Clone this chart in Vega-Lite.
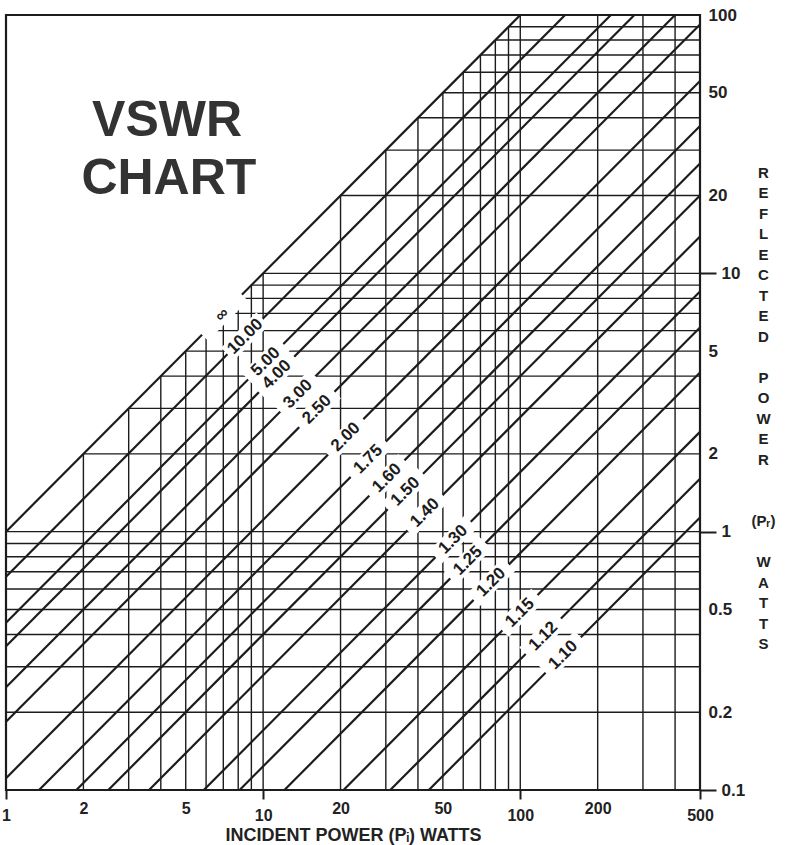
{
  "$schema": "https://vega.github.io/schema/vega-lite/v6.json",
  "width": 694,
  "height": 775,
  "autosize": {"type": "none"},
  "padding": {"left": 6, "top": 15, "right": 85, "bottom": 55},
  "background": "white",
  "config": {
    "view": {"stroke": "#1c1c1c", "strokeWidth": 2.2},
    "font": "Liberation Sans",
    "axisY": {
      "grid": false, "domain": false, "ticks": false, "labels": false,
      "titleAngle": 0, "titleFont": "Liberation Sans", "titleFontSize": 15, "titleFontWeight": "bold", "titleColor": "#222",
      "titleLineHeight": 20.5, "titleAlign": "center", "titleBaseline": "middle", "titleX": 63
    }
  },
  "resolve": {"axis": {"y": "independent"}},
  "datasets": {
    "grid": [
      {"x": 2, "y": 0.1, "x2": 2, "y2": 2},
      {"x": 3, "y": 0.1, "x2": 3, "y2": 3},
      {"x": 4, "y": 0.1, "x2": 4, "y2": 4},
      {"x": 5, "y": 0.1, "x2": 5, "y2": 5},
      {"x": 6, "y": 0.1, "x2": 6, "y2": 6},
      {"x": 7, "y": 0.1, "x2": 7, "y2": 7},
      {"x": 8, "y": 0.1, "x2": 8, "y2": 8},
      {"x": 9, "y": 0.1, "x2": 9, "y2": 9},
      {"x": 10, "y": 0.1, "x2": 10, "y2": 10},
      {"x": 20, "y": 0.1, "x2": 20, "y2": 20},
      {"x": 30, "y": 0.1, "x2": 30, "y2": 30},
      {"x": 40, "y": 0.1, "x2": 40, "y2": 40},
      {"x": 50, "y": 0.1, "x2": 50, "y2": 50},
      {"x": 60, "y": 0.1, "x2": 60, "y2": 60},
      {"x": 70, "y": 0.1, "x2": 70, "y2": 70},
      {"x": 80, "y": 0.1, "x2": 80, "y2": 80},
      {"x": 90, "y": 0.1, "x2": 90, "y2": 90},
      {"x": 100, "y": 0.1, "x2": 100, "y2": 100},
      {"x": 200, "y": 0.1, "x2": 200, "y2": 100},
      {"x": 300, "y": 0.1, "x2": 300, "y2": 100},
      {"x": 400, "y": 0.1, "x2": 400, "y2": 100},
      {"x": 1, "y": 0.2, "x2": 500, "y2": 0.2},
      {"x": 1, "y": 0.3, "x2": 500, "y2": 0.3},
      {"x": 1, "y": 0.4, "x2": 500, "y2": 0.4},
      {"x": 1, "y": 0.5, "x2": 500, "y2": 0.5},
      {"x": 1, "y": 0.6, "x2": 500, "y2": 0.6},
      {"x": 1, "y": 0.7, "x2": 500, "y2": 0.7},
      {"x": 1, "y": 0.8, "x2": 500, "y2": 0.8},
      {"x": 1, "y": 0.9, "x2": 500, "y2": 0.9},
      {"x": 1, "y": 1, "x2": 500, "y2": 1},
      {"x": 2, "y": 2, "x2": 500, "y2": 2},
      {"x": 3, "y": 3, "x2": 500, "y2": 3},
      {"x": 4, "y": 4, "x2": 500, "y2": 4},
      {"x": 5, "y": 5, "x2": 500, "y2": 5},
      {"x": 6, "y": 6, "x2": 500, "y2": 6},
      {"x": 7, "y": 7, "x2": 500, "y2": 7},
      {"x": 8, "y": 8, "x2": 500, "y2": 8},
      {"x": 9, "y": 9, "x2": 500, "y2": 9},
      {"x": 10, "y": 10, "x2": 500, "y2": 10},
      {"x": 20, "y": 20, "x2": 500, "y2": 20},
      {"x": 30, "y": 30, "x2": 500, "y2": 30},
      {"x": 40, "y": 40, "x2": 500, "y2": 40},
      {"x": 50, "y": 50, "x2": 500, "y2": 50},
      {"x": 60, "y": 60, "x2": 500, "y2": 60},
      {"x": 70, "y": 70, "x2": 500, "y2": 70},
      {"x": 80, "y": 80, "x2": 500, "y2": 80},
      {"x": 90, "y": 90, "x2": 500, "y2": 90}
    ],
    "vswr": [
      {"label": "∞", "x": 1, "y": 1, "x2": 100, "y2": 100},
      {"label": "10.00", "x": 1, "y": 0.6694, "x2": 149.4, "y2": 100},
      {"label": "5.00", "x": 1, "y": 0.4444, "x2": 225, "y2": 100},
      {"label": "4.00", "x": 1, "y": 0.36, "x2": 277.8, "y2": 100},
      {"label": "3.00", "x": 1, "y": 0.25, "x2": 400, "y2": 100},
      {"label": "2.50", "x": 1, "y": 0.18367, "x2": 500, "y2": 91.84},
      {"label": "2.00", "x": 1, "y": 0.11111, "x2": 500, "y2": 55.56},
      {"label": "1.75", "x": 1.3444, "y": 0.1, "x2": 500, "y2": 37.19},
      {"label": "1.60", "x": 1.8778, "y": 0.1, "x2": 500, "y2": 26.63},
      {"label": "1.50", "x": 2.5, "y": 0.1, "x2": 500, "y2": 20},
      {"label": "1.40", "x": 3.6, "y": 0.1, "x2": 500, "y2": 13.889},
      {"label": "1.30", "x": 5.878, "y": 0.1, "x2": 500, "y2": 8.5065},
      {"label": "1.25", "x": 8.1, "y": 0.1, "x2": 500, "y2": 6.173},
      {"label": "1.20", "x": 12.1, "y": 0.1, "x2": 500, "y2": 4.1322},
      {"label": "1.15", "x": 20.544, "y": 0.1, "x2": 500, "y2": 2.4338},
      {"label": "1.12", "x": 31.21, "y": 0.1, "x2": 500, "y2": 1.602},
      {"label": "1.10", "x": 44.1, "y": 0.1, "x2": 500, "y2": 1.1338}
    ],
    "labels": [
      {"label": "∞", "x": 6.92, "y": 6.92},
      {"label": "10.00", "x": 8.511, "y": 5.697},
      {"label": "5.00", "x": 10.23, "y": 4.546},
      {"label": "4.00", "x": 11.28, "y": 4.061},
      {"label": "3.00", "x": 13.65, "y": 3.4125},
      {"label": "2.50", "x": 16.18, "y": 2.972},
      {"label": "2.00", "x": 20.94, "y": 2.327},
      {"label": "1.75", "x": 25.63, "y": 1.906},
      {"label": "1.60", "x": 30.29, "y": 1.613},
      {"label": "1.50", "x": 35.75, "y": 1.43},
      {"label": "1.40", "x": 42.6, "y": 1.1833},
      {"label": "1.30", "x": 54.83, "y": 0.9328},
      {"label": "1.25", "x": 62.54, "y": 0.7721},
      {"label": "1.20", "x": 77.05, "y": 0.6368},
      {"label": "1.15", "x": 99.68, "y": 0.4852},
      {"label": "1.12", "x": 122.9, "y": 0.3938},
      {"label": "1.10", "x": 146.9, "y": 0.3331}
    ],
    "title": [
      {"t": "VSWR", "x": 4.23, "y": 34},
      {"t": "CHART", "x": 4.3, "y": 20.2}
    ]
  },
  "encoding": {
    "x": {
      "field": "x", "type": "quantitative",
      "scale": {"type": "log", "domain": [1, 500], "nice": false},
      "axis": {
        "orient": "bottom",
        "values": [1, 2, 5, 10, 20, 50, 100, 200, 500],
        "format": "~g",
        "grid": false, "domain": false,
        "tickColor": "#1c1c1c", "tickWidth": 2,
        "tickSize": {"condition": {"test": "datum.value === 1 || datum.value === 10 || datum.value === 100 || datum.value === 500", "value": 9}, "value": 0},
        "labelPadding": {"condition": {"test": "datum.value === 1 || datum.value === 10 || datum.value === 100 || datum.value === 500", "value": 8}, "value": 10},
        "labelFlush": false,
        "labelFont": "Liberation Sans", "labelFontSize": 16, "labelFontWeight": "bold", "labelColor": "#222",
        "title": "INCIDENT POWER (Pᵢ) WATTS",
        "titleFont": "Liberation Sans", "titleFontSize": 18, "titleFontWeight": "bold", "titleColor": "#222",
        "titleBaseline": "alphabetic", "titleY": 50
      }
    }
  },
  "layer": [
    {
      "data": {"name": "grid"},
      "mark": {"type": "rule", "color": "#1c1c1c", "strokeWidth": 1.4},
      "encoding": {
        "y": {
          "field": "y", "type": "quantitative",
          "scale": {"type": "log", "domain": [0.1, 100], "nice": false},
          "axis": {
            "orient": "right",
            "values": [0.1, 0.2, 0.5, 1, 2, 5, 10, 20, 50, 100],
            "format": "~g",
            "labels": true, "ticks": true,
            "tickColor": "#1c1c1c", "tickWidth": 2,
            "tickSize": {"condition": {"test": "datum.value === 0.1 || datum.value === 1 || datum.value === 10", "value": 16}, "value": 0},
            "labelPadding": {"condition": {"test": "datum.value === 0.1 || datum.value === 1 || datum.value === 10", "value": 5}, "value": 8},
            "labelFlush": false,
            "labelFont": "Liberation Sans", "labelFontSize": 17, "labelFontWeight": "bold", "labelColor": "#222",
            "title": ["R", "E", "F", "L", "E", "C", "T", "E", "D"],
            "titleY": 157
          }
        },
        "x2": {"field": "x2"},
        "y2": {"field": "y2"}
      }
    },
    {
      "data": {"name": "vswr"},
      "mark": {"type": "rule", "color": "#1c1c1c", "strokeWidth": 2.2},
      "encoding": {
        "y": {
          "field": "y", "type": "quantitative",
          "scale": {"type": "log", "domain": [0.1, 100], "nice": false},
          "axis": {"orient": "right", "title": ["P", "O", "W", "E", "R"], "titleY": 362}
        },
        "x2": {"field": "x2"},
        "y2": {"field": "y2"}
      }
    },
    {
      "data": {"name": "labels"},
      "transform": [{"filter": "datum.label !== '∞'"}],
      "mark": {"type": "point", "shape": "M-1,-0.36L1,-0.36L1,0.36L-1,0.36Z", "size": 2500, "angle": -45, "filled": true, "fill": "white", "opacity": 1, "strokeWidth": 0},
      "encoding": {
        "y": {
          "field": "y", "type": "quantitative",
          "scale": {"type": "log", "domain": [0.1, 100], "nice": false},
          "axis": {"orient": "right", "title": "(Pᵣ)", "titleY": 505}
        }
      }
    },
    {
      "data": {"name": "labels"},
      "transform": [{"filter": "datum.label === '∞'"}],
      "mark": {"type": "point", "shape": "M-1,-0.3L1,-0.3L1,0.3L-1,0.3Z", "size": 3200, "angle": -45, "filled": true, "fill": "white", "opacity": 1, "strokeWidth": 0},
      "encoding": {
        "y": {
          "field": "y", "type": "quantitative",
          "scale": {"type": "log", "domain": [0.1, 100], "nice": false},
          "axis": null
        }
      }
    },
    {
      "data": {"name": "labels"},
      "mark": {"type": "text", "angle": -45, "align": "center", "baseline": "middle", "font": "Liberation Sans", "fontSize": 17, "fontWeight": "bold", "color": "#1c1c1c"},
      "encoding": {
        "y": {
          "field": "y", "type": "quantitative",
          "scale": {"type": "log", "domain": [0.1, 100], "nice": false},
          "axis": {"orient": "right", "title": ["W", "A", "T", "T", "S"], "titleY": 546.5}
        },
        "text": {"field": "label"}
      }
    },
    {
      "data": {"name": "title"},
      "mark": {"type": "text", "align": "center", "baseline": "alphabetic", "font": "Liberation Sans", "fontSize": 50, "fontWeight": "bold", "color": "#333333"},
      "encoding": {
        "y": {
          "field": "y", "type": "quantitative",
          "scale": {"type": "log", "domain": [0.1, 100], "nice": false},
          "axis": null
        },
        "text": {"field": "t"}
      }
    }
  ]
}
